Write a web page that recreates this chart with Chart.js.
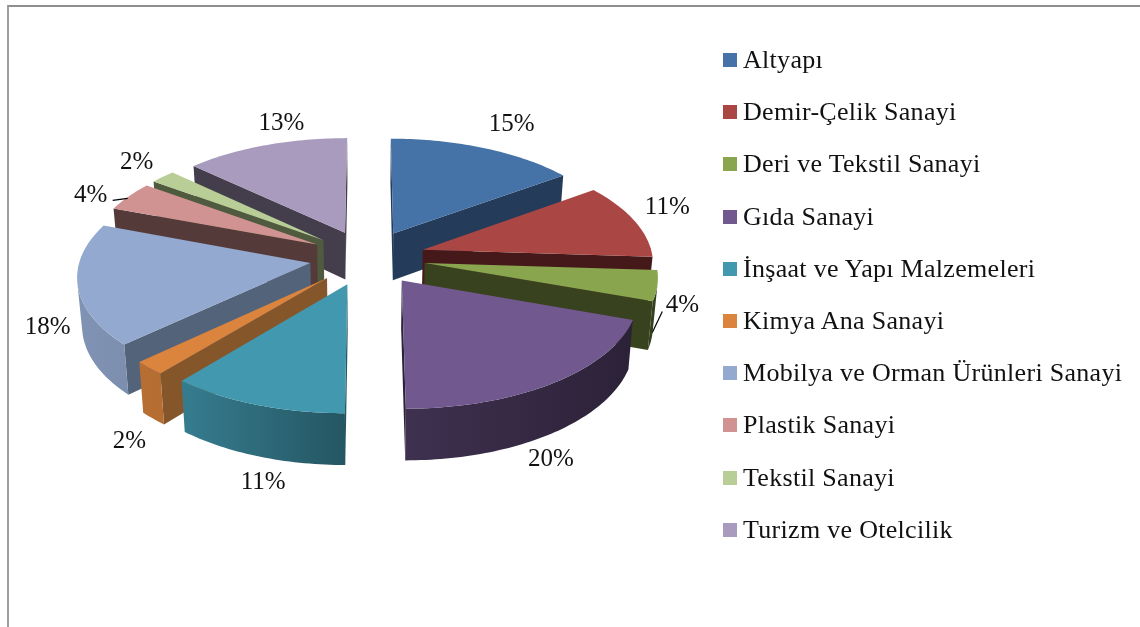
<!DOCTYPE html>
<html>
<head>
  <meta charset="utf-8">
  <title>Sektörel Dağılım</title>
  <script src="https://cdn.jsdelivr.net/npm/chart.js"></script>
  <style>
    body { margin: 0; background: #fff; }
    #frame { position: absolute; left: 7px; top: 5px; right: 0; bottom: 0; border-left: 2px solid #a0a0a0; border-top: 2px solid #8e8e8e; }
    #chart { position: absolute; left: 0; top: 0; }
    #legend { position: absolute; left: 723px; top: 34px; margin: 0; padding: 0; list-style: none; font: 26px "Liberation Serif", serif; letter-spacing: 0.3px; color: #111; }
    #legend li { display: flex; align-items: center; height: 52.2px; white-space: nowrap; }
    #legend i { width: 14px; height: 14px; margin-right: 6px; }
  </style>
</head>
<body>
  <div id="frame"></div>
  <canvas id="chart" width="1140" height="627"></canvas>
  <ul id="legend"></ul>

  <script>
    const categories = ["Altyapı", "Demir-Çelik Sanayi", "Deri ve Tekstil Sanayi", "Gıda Sanayi", "İnşaat ve Yapı Malzemeleri", "Kimya Ana Sanayi", "Mobilya ve Orman Ürünleri Sanayi", "Plastik Sanayi", "Tekstil Sanayi", "Turizm ve Otelcilik"];
    const shares = [15, 11, 4.4, 19.6, 11, 2, 17.7, 4.3, 2, 13];
    const topColors = ["#4572A7", "#AA4643", "#89A54E", "#71588F", "#4198AF", "#DB843D", "#93A9CF", "#D19392", "#B9CD96", "#A99BBD"];
    const cutColors = ["#243B5A", "#45191A", "#38421E", "#2C233A", "#245663", "#85562A", "#53647A", "#553A3A", "#4F5A3E", "#443E4C"];

    // label offsets from the rim of each slice, and the two leader lines
    const labelNudge = [[27, -24], [33, -13], [25, 20], [-3, 77], [7, 78], [-20, 73], [-30, 42], [-38, -1], [-26, -14], [16, -22]];
    const leaders = { 2: [[5, 26], [-5, 47]], 7: [[-1, 2], [-16, 4]] };

    // fake 3D: tilt + perspective on the arcs chart.js lays out
    const TILT = 0.476, PERSP = 0.105, CONVERGE = 0.983;
    const shadeStops = [[0, 0.87], [0.2, 0.81], [0.5, 0.55], [0.6, 0.55], [1, 0.39]];

    function project(el, u, v) {
      const s = 1 / (1 - PERSP * v);
      return { x: el.x + u * el.outerRadius * s, y: el.y + TILT * el.outerRadius * v * s, v };
    }

    function bottom(el, p) {
      return { x: el.x + (p.x - el.x) * CONVERGE, y: p.y + 47.5 + 3.5 * p.v };
    }

    function tint(hex, f) {
      const n = parseInt(hex.slice(1), 16);
      return `rgb(${(n >> 16) * f},${((n >> 8) & 255) * f},${(n & 255) * f})`;
    }

    function polar(el, angle, r) {
      // chart.js angles start at -PI/2, which is 12 o'clock here
      const mid = (el.startAngle + el.endAngle) / 2;
      const e = el.options.offset / el.outerRadius;
      return project(el, Math.cos(angle) * r + Math.cos(mid) * e, Math.sin(angle) * r + Math.sin(mid) * e);
    }

    function fillPoly(ctx, pts, color) {
      ctx.beginPath();
      pts.forEach((p, i) => i ? ctx.lineTo(p.x, p.y) : ctx.moveTo(p.x, p.y));
      ctx.closePath();
      ctx.fillStyle = color;
      ctx.fill();
    }

    function facesViewer(el, p, q) {
      const pts = [p, q, bottom(el, q), bottom(el, p)];
      let area = 0;
      pts.forEach((a, i) => { const b = pts[(i + 1) % 4]; area += a.x * b.y - b.x * a.y; });
      return area < 0;
    }

    function drawCut(ctx, el, p, q, color) {
      if (facesViewer(el, p, q)) fillPoly(ctx, [p, q, bottom(el, q), bottom(el, p)], color);
    }

    function drawSlice(ctx, el, i) {
      const apex = polar(el, 0, 0);
      const rim = [];
      const steps = Math.ceil((el.endAngle - el.startAngle) / 0.02);
      for (let k = 0; k <= steps; k++) {
        rim.push(polar(el, el.startAngle + (el.endAngle - el.startAngle) * k / steps, 1));
      }
      drawCut(ctx, el, apex, rim[0], cutColors[i]);
      drawCut(ctx, el, rim[steps], apex, cutColors[i]);

      // outer wall: the rim stretch facing the viewer, lit from the left
      const run = [];
      for (let k = 0; k < steps; k++) {
        if (facesViewer(el, rim[k], rim[k + 1])) {
          if (!run.length) run.push(rim[k]);
          run.push(rim[k + 1]);
        }
      }
      if (run.length) {
        const grad = ctx.createLinearGradient(78, 0, 630, 0);
        shadeStops.forEach(s => grad.addColorStop(s[0], tint(topColors[i], s[1])));
        fillPoly(ctx, [...run, ...run.map(p => bottom(el, p)).reverse()], grad);
      }
      fillPoly(ctx, [apex, ...rim], topColors[i]);
    }

    const pie3d = {
      id: "pie3d",
      beforeDatasetsDraw(chart) {
        const ctx = chart.ctx;
        const arcs = chart.getDatasetMeta(0).data;
        const midV = el => Math.sin((el.startAngle + el.endAngle) / 2);
        const order = arcs.map((el, i) => i).sort((a, b) => midV(arcs[a]) - midV(arcs[b]));
        ctx.save();
        order.forEach(i => drawSlice(ctx, arcs[i], i));

        ctx.fillStyle = "#111";
        ctx.font = '25px "Liberation Serif", serif';
        ctx.textAlign = "center";
        ctx.textBaseline = "middle";
        arcs.forEach((el, i) => {
          const mid = (el.startAngle + el.endAngle) / 2;
          const a = polar(el, mid, 1);
          ctx.fillText(Math.round(shares[i]) + "%", a.x + labelNudge[i][0], a.y + labelNudge[i][1]);
          if (leaders[i]) {
            ctx.beginPath();
            ctx.moveTo(a.x + leaders[i][0][0], a.y + leaders[i][0][1]);
            ctx.lineTo(a.x + leaders[i][1][0], a.y + leaders[i][1][1]);
            ctx.strokeStyle = "#000";
            ctx.lineWidth = 1.2;
            ctx.stroke();
          }
        });
        ctx.restore();
        return false;
      }
    };

    const chart = new Chart(document.getElementById("chart"), {
      type: "pie",
      data: {
        labels: categories,
        datasets: [{ data: shares, backgroundColor: topColors, borderWidth: 0, offset: 58 }]
      },
      options: {
        responsive: false,
        animation: false,
        events: [],
        radius: 230,
        layout: { padding: { right: 405, bottom: 112 } },
        plugins: { legend: { display: false }, tooltip: { enabled: false } }
      },
      plugins: [pie3d]
    });

    // html legend from the chart's own legend items
    const legendEl = document.getElementById("legend");
    chart.options.plugins.legend.labels.generateLabels(chart).forEach(item => {
      const li = document.createElement("li");
      const box = document.createElement("i");
      box.style.background = item.fillStyle;
      li.appendChild(box);
      li.appendChild(document.createTextNode(item.text));
      legendEl.appendChild(li);
    });
  </script>
</body>
</html>
